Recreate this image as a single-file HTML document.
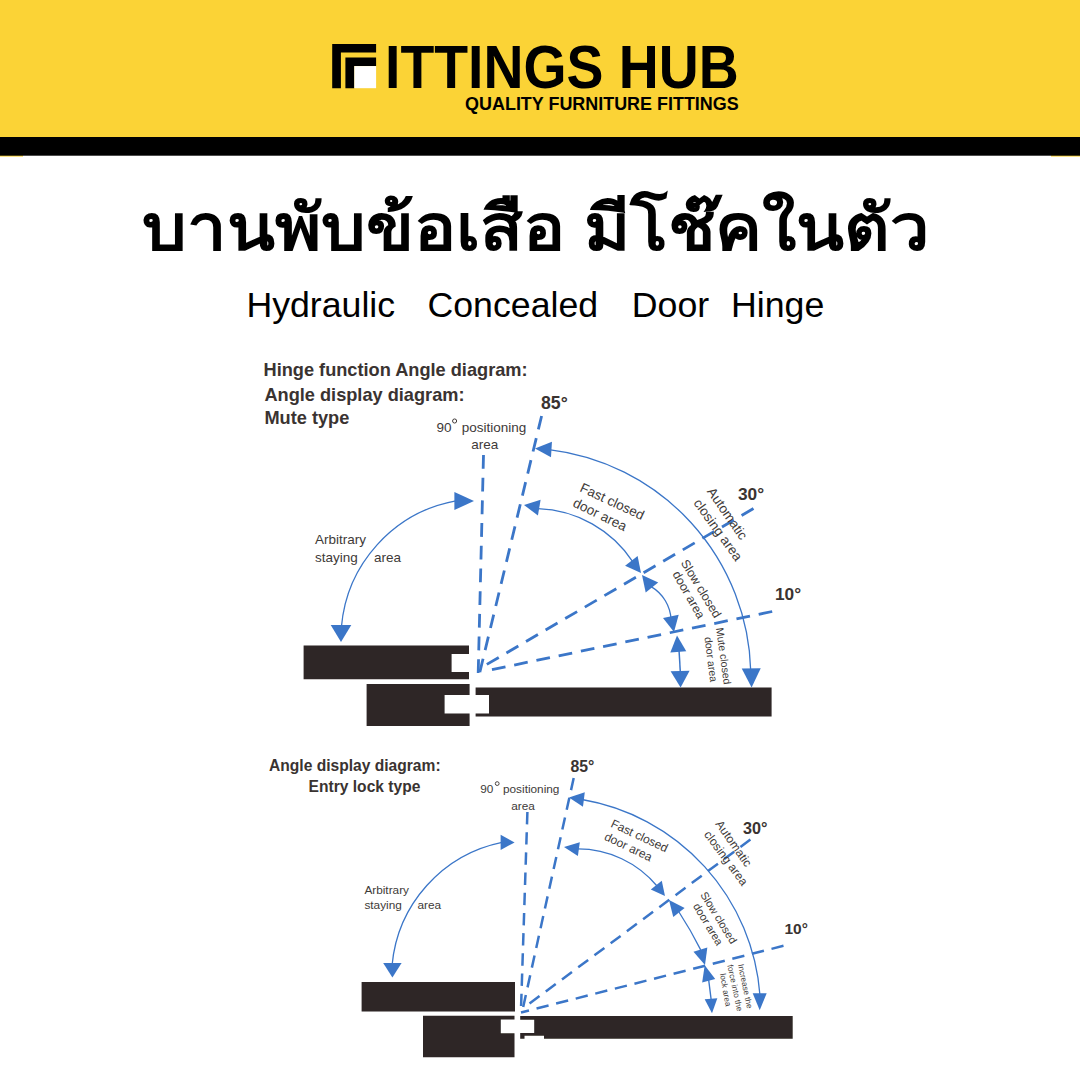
<!DOCTYPE html><html><head><meta charset="utf-8"><title>Fittings Hub</title><style>html,body{margin:0;padding:0;background:#fff}body{width:1080px;height:1080px;overflow:hidden;font-family:"Liberation Sans",sans-serif}svg{display:block}text{font-family:"Liberation Sans",sans-serif}</style></head><body><svg width="1080" height="1080" viewBox="0 0 1080 1080"><defs><filter id="bl" x="0" y="0" width="1080" height="1080" filterUnits="userSpaceOnUse"><feGaussianBlur stdDeviation="0.45"/></filter></defs>
<rect x="0" y="0" width="1080" height="137.2" fill="#FBD336"/>
<rect x="0" y="155" width="23" height="1.6" fill="#FBD336" opacity="1"/><rect x="1051" y="155" width="29" height="1.6" fill="#FBD336" opacity="1"/>
<rect x="0" y="137" width="1080" height="18.7" fill="#000"/>
<path fill="#000" d="M332.2,43.9H376.1V52.5H340.9V88.2H332.2ZM345.4,57.6H376.1V66.1H354.3V88.2H345.4Z"/>
<rect x="354.3" y="66.1" width="21.8" height="22.1" fill="#fff"/>
<text x="385" y="88.15" font-size="61.7" font-weight="bold" fill="#000" textLength="353.7" lengthAdjust="spacingAndGlyphs">ITTINGS HUB</text>
<text x="465.1" y="110.4" font-size="18" font-weight="bold" fill="#000" textLength="273.6" lengthAdjust="spacingAndGlyphs">QUALITY FURNITURE FITTINGS</text>
<text x="142" y="250" font-size="64" font-weight="bold" fill="#000" textLength="788" lengthAdjust="spacingAndGlyphs" style="font-family:sans-serif">บานพับข้อเสือ มีโช๊คในตัว</text>
<text font-size="35.7" fill="#000" x="246.4" y="317.0">Hydraulic</text>
<text font-size="35.7" fill="#000" x="427.5" y="317.0">Concealed</text>
<text font-size="35.7" fill="#000" x="631.8" y="317.0">Door</text>
<text font-size="35.7" fill="#000" x="731.0" y="317.0">Hinge</text>
<g filter="url(#bl)">
<path fill="#2D2725" d="M303.6,645.6H469V654H451.6V672H469V679.2H303.6Z"/>
<path fill="#2D2725" d="M366.6,684H469.6V695H444.6V713.6H469.6V726H366.6Z"/>
<path fill="#2D2725" d="M475.6,687.6H771.6V716.6H475.6V713.6H489V695H475.6Z"/>
<path fill="none" stroke="#3B76C8" stroke-width="2.8" stroke-dasharray="13.8 8.9" stroke-dashoffset="0" d="M483.50,455.00L478.20,673.50"/>
<path fill="none" stroke="#3B76C8" stroke-width="2.8" stroke-dasharray="13.8 8.9" stroke-dashoffset="0" d="M541.60,416.00L479.50,673.50"/>
<path fill="none" stroke="#3B76C8" stroke-width="2.8" stroke-dasharray="13.8 8.9" stroke-dashoffset="0" d="M753.50,508.50L486.50,664.60"/>
<path fill="none" stroke="#3B76C8" stroke-width="2.8" stroke-dasharray="13.8 8.9" stroke-dashoffset="0" d="M772.20,611.50L491.70,669.70"/>
<path fill="none" stroke="#3B76C8" stroke-width="1.3" d="M455.87,500.82A140.35,140.35 0 0 0 341.40,627.03"/>
<path fill="#3B76C8" d="M474.00,501.00L454.40,510.00L454.40,492.00Z"/>
<path fill="#3B76C8" d="M341.00,642.00L330.70,625.00L351.30,625.00Z"/>
<path fill="none" stroke="#3B76C8" stroke-width="1.3" d="M548.97,449.56A228.92,228.92 0 0 1 750.74,671.02"/>
<path fill="#3B76C8" d="M535.00,448.60L551.93,441.85L551.01,457.32Z"/>
<path fill="#3B76C8" d="M751.60,687.40L741.72,668.59L760.72,668.21Z"/>
<path fill="none" stroke="#3B76C8" stroke-width="1.3" d="M537.96,508.67A118.57,118.57 0 0 1 633.24,562.34"/>
<path fill="#3B76C8" d="M524.00,505.00L540.62,499.71L537.94,515.48Z"/>
<path fill="#3B76C8" d="M641.00,573.00L625.09,565.84L637.62,555.89Z"/>
<path fill="none" stroke="#3B76C8" stroke-width="1.3" d="M651.12,586.65A40.51,40.51 0 0 1 671.09,620.01"/>
<path fill="#3B76C8" d="M642.00,575.00L658.22,582.55L645.69,592.50Z"/>
<path fill="#3B76C8" d="M674.00,632.00L663.02,617.88L678.71,614.74Z"/>
<path fill="none" stroke="#3B76C8" stroke-width="1.5" d="M679,650L680.4,673"/>
<path fill="#3B76C8" d="M677.00,635.60L686.28,651.31L670.33,652.59Z"/>
<path fill="#3B76C8" d="M680.60,687.60L670.61,671.29L689.60,670.72Z"/>
<circle cx="454.6" cy="421" r="2.05" fill="none" stroke="#403A38" stroke-width="1.0"/>
<path fill="#2D2725" d="M361.6,982H515V1011.6H361.6Z"/>
<path fill="#2D2725" d="M423,1015.8H514.5V1019.6H500.8V1033.2H514.5V1057.2H423Z"/>
<path fill="#2D2725" d="M520.2,1016H792.7V1038.8H544V1035.7H524.5V1038.8H520.2V1033H534.2V1019.7H520.2Z"/>
<path fill="none" stroke="#3B76C8" stroke-width="2.5" stroke-dasharray="12.4 7.8" stroke-dashoffset="0" d="M527.40,812.00L521.10,1006.00"/>
<path fill="none" stroke="#3B76C8" stroke-width="2.5" stroke-dasharray="12.4 7.8" stroke-dashoffset="0" d="M573.70,778.00L523.20,1007.00"/>
<path fill="none" stroke="#3B76C8" stroke-width="2.5" stroke-dasharray="12.4 7.8" stroke-dashoffset="0" d="M750.40,839.60L529.50,1003.50"/>
<path fill="none" stroke="#3B76C8" stroke-width="2.5" stroke-dasharray="12.4 7.8" stroke-dashoffset="0" d="M783.50,945.80L521.00,1012.50"/>
<path fill="none" stroke="#3B76C8" stroke-width="1.3" d="M502.01,842.33A138.28,138.28 0 0 0 392.09,964.97"/>
<path fill="#3B76C8" d="M514.60,842.40L500.60,850.00L500.60,834.80Z"/>
<path fill="#3B76C8" d="M392.40,977.60L383.20,963.00L401.60,963.00Z"/>
<path fill="none" stroke="#3B76C8" stroke-width="1.3" d="M581.97,799.50A214.73,214.73 0 0 1 759.94,995.02"/>
<path fill="#3B76C8" d="M569.00,797.60L584.81,792.34L582.94,806.72Z"/>
<path fill="#3B76C8" d="M759.70,1010.20L752.70,993.20L766.70,993.20Z"/>
<path fill="none" stroke="#3B76C8" stroke-width="1.3" d="M577.50,848.96A103.41,103.41 0 0 1 657.47,886.53"/>
<path fill="#3B76C8" d="M564.00,847.00L579.83,842.15L577.88,856.01Z"/>
<path fill="#3B76C8" d="M665.00,896.00L650.81,889.40L661.77,880.68Z"/>
<path fill="none" stroke="#3B76C8" stroke-width="1.3" d="M678.97,912.02A384.82,384.82 0 0 1 700.70,949.90"/>
<path fill="#3B76C8" d="M669.00,900.00L684.63,908.01L673.28,917.04Z"/>
<path fill="#3B76C8" d="M705.00,965.00L693.46,951.76L707.35,947.59Z"/>
<path fill="none" stroke="#3B76C8" stroke-width="1.4" d="M708.7,980L711.2,1000"/>
<path fill="#3B76C8" d="M704.70,965.30L715.23,978.99L702.16,982.39Z"/>
<path fill="#3B76C8" d="M712.00,1013.30L704.67,999.17L717.34,998.30Z"/>
<circle cx="497.2" cy="783.6" r="1.9" fill="none" stroke="#403A38" stroke-width="0.95"/>
</g>
<g fill="#403A38" stroke="none"><text font-size="18.2" font-weight="bold" fill="#3A3331" x="263.5" y="375.8">Hinge function Angle diagram:</text><text font-size="18.2" font-weight="bold" fill="#3A3331" x="264.4" y="401.0">Angle display diagram:</text><text font-size="18.2" font-weight="bold" fill="#3A3331" x="264.4" y="424.4">Mute type</text><text font-size="17.7" font-weight="bold" fill="#3A3331" x="541.0" y="408.6">85°</text><text font-size="17.3" font-weight="bold" fill="#3A3331" x="738.0" y="500.4">30°</text><text font-size="17.3" font-weight="bold" fill="#3A3331" x="775.0" y="600.0">10°</text><text font-size="13.5" x="436.6" y="432.2">90</text><text font-size="13.5" x="461.8" y="432.2">positioning</text><text font-size="13.5" x="471.2" y="449.4">area</text><text font-size="13.5" x="315.0" y="544.4">Arbitrary</text><text font-size="13.5" x="315.0" y="561.6">staying</text><text font-size="13.5" x="374.0" y="561.6">area</text><text font-size="13.5" transform="translate(579.0,491.0) rotate(24.9)">Fast closed</text><text font-size="13.5" transform="translate(572.0,506.0) rotate(25.9)">door area</text><text font-size="13.5" transform="translate(706.5,491.5) rotate(55.3)">Automatic</text><text font-size="13.5" transform="translate(693.0,503.0) rotate(54.1)">closing area</text><text font-size="12.3" transform="translate(680.6,562.8) rotate(58.8)">Slow closed</text><text font-size="12.3" transform="translate(672.2,574.0) rotate(60.4)">door area</text><text font-size="10.6" transform="translate(715.9,628.3) rotate(81.9)">Mute closed</text><text font-size="10.6" transform="translate(704.6,637.4) rotate(82.9)">door area</text><text font-size="15.6" font-weight="bold" fill="#3A3331" x="269.0" y="771.0">Angle display diagram:</text><text font-size="15.6" font-weight="bold" fill="#3A3331" x="308.6" y="791.6">Entry lock type</text><text font-size="15.8" font-weight="bold" fill="#3A3331" x="570.4" y="771.8">85°</text><text font-size="16.2" font-weight="bold" fill="#3A3331" x="743.0" y="834.0">30°</text><text font-size="15.5" font-weight="bold" fill="#3A3331" x="784.5" y="933.7">10°</text><text font-size="11.8" x="480.2" y="792.7">90</text><text font-size="11.8" x="503.0" y="792.7">positioning</text><text font-size="11.8" x="511.2" y="809.6">area</text><text font-size="11.8" x="364.4" y="894.0">Arbitrary</text><text font-size="11.8" x="364.4" y="909.0">staying</text><text font-size="11.8" x="417.5" y="909.0">area</text><text font-size="12" transform="translate(610.0,826.5) rotate(25.1)">Fast closed</text><text font-size="12" transform="translate(603.5,839.5) rotate(25.4)">door area</text><text font-size="12" transform="translate(715.0,824.0) rotate(55.0)">Automatic</text><text font-size="12" transform="translate(703.5,834.5) rotate(53.5)">closing area</text><text font-size="11" transform="translate(700.0,894.7) rotate(58.3)">Slow closed</text><text font-size="11" transform="translate(692.7,906.0) rotate(59.0)">door area</text><text font-size="8.2" transform="translate(738.0,964.7) rotate(78.4)">Increase the</text><text font-size="8.2" transform="translate(727.3,965.3) rotate(77.9)">force into the</text><text font-size="8.2" transform="translate(720.0,974.0) rotate(80.2)">lock area</text></g>
</svg></body></html>
